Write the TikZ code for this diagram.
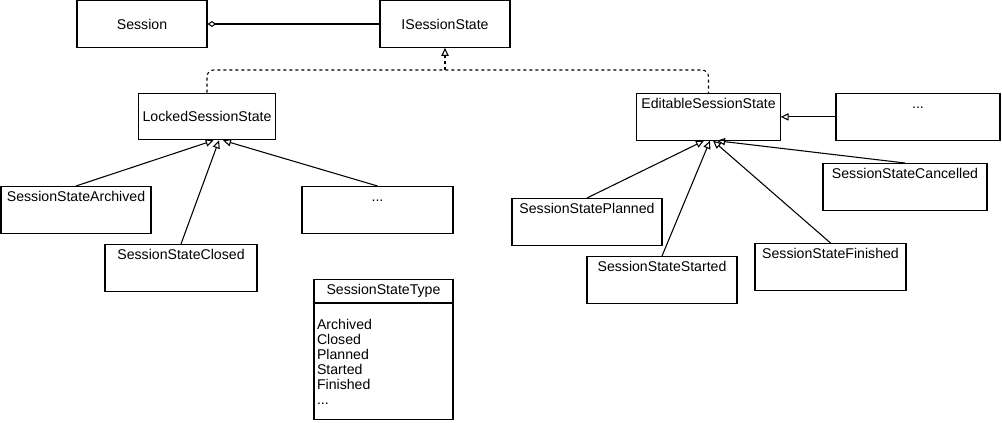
\documentclass[tikz,border=0pt]{standalone}
\usepackage{fontspec}
\setmainfont{Liberation Sans}
\usetikzlibrary{arrows.meta}

\tikzset{
  umlbox/.style={draw, line width=0.8pt, fill=white, font=\fontsize{10.6}{13}\selectfont, minimum height=35pt},
  topbox/.style={umlbox, anchor=north, minimum height=0pt, inner ysep=0pt, text height=11pt, text depth=24pt},
  opentip/.style={-{Triangle[open, length=6pt, width=5.5pt]}},
  inherit/.style={line width=0.8pt, opentip},
  realize/.style={line width=0.8pt, dash pattern=on 2.25pt off 2.25pt, rounded corners=5pt},
  aggr/.style={line width=0.8pt, {Diamond[open, length=6.5pt, width=4.5pt]}-}
}

\begin{document}
\begin{tikzpicture}[x=0.75pt, y=-0.75pt]
        \useasboundingbox (0,0) rectangle (1002,422);

        % Nodes
        \node[umlbox, minimum width=97.5pt] (session) at (142,24) {Session};
        \node[umlbox, minimum width=97.5pt] (istate) at (445,24) {ISessionState};
        \node[umlbox, minimum width=97.5pt] (locked) at (207,116.5) {LockedSessionState};

        \foreach \n/\x/\y/\w/\txt in {editable/708.5/93/104.25/EditableSessionState,
                archived/76/186/112.5/SessionStateArchived,
                closed/181/244/114/SessionStateClosed,
                planned/587/198/112.5/SessionStatePlanned,
                started/662/256/112.5/SessionStateStarted,
                finished/830.5/243/113.25/SessionStateFinished,
                cancelled/905/163/123/SessionStateCancelled}
            \node[topbox, minimum width=\w pt] (\n) at (\x,\y) {\txt};
        \node[topbox, minimum width=123pt] (moreR) at (918,93) {...};
        \node[topbox, minimum width=113.25pt] (moreL) at (377.5,186) {...};

        % Enum
        \node[umlbox, anchor=north, minimum width=104.25pt, minimum height=17.25pt, inner ysep=0pt] (typehead) at (383.5,279) {SessionStateType};
        \node[umlbox, anchor=north, minimum height=87pt, text width=99.75pt, inner xsep=2.25pt, align=left,
              font=\fontsize{10.6}{11.25}\selectfont] (typebody) at (typehead.south) {Archived\\Closed\\Planned\\Started\\Finished\\...};

        % Edges
        \coordinate (split) at (445,70);
        \draw[aggr] (session) -- (istate);
        \draw[realize] (locked.north) |- (split) -| (editable.north);
        \draw[realize, opentip] (split) -- (istate.south);
        \draw[inherit] (moreR) -- (editable);
        \foreach \src/\dx in {archived/5, closed/9, moreL/12}
            \draw[inherit] (\src.north) -- ([xshift=\dx pt]locked.south);
        \foreach \src/\dx in {planned/-3.4, started/1.1, finished/3.4, cancelled/6.4}
            \draw[inherit] (\src.north) -- ([xshift=\dx pt]editable.south);
    \end{tikzpicture}
\end{document}
